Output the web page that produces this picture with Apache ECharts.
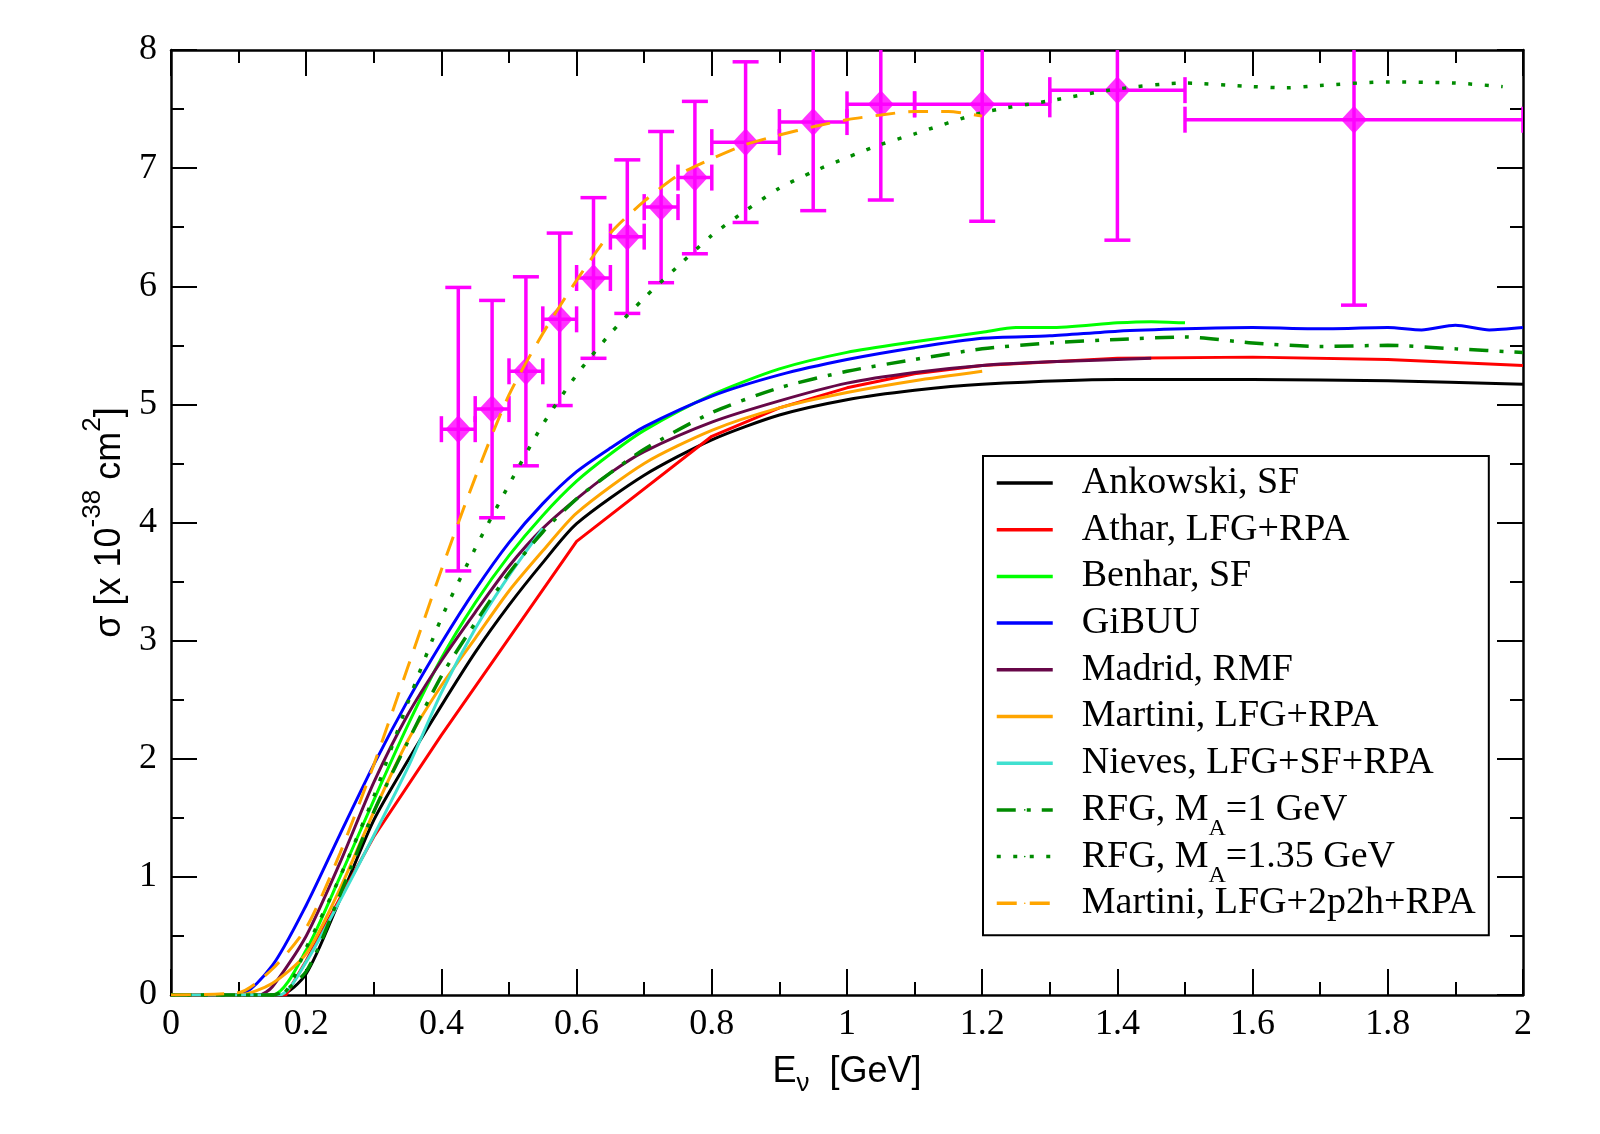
<!DOCTYPE html>
<html>
<head>
<meta charset="utf-8">
<title>CCQE cross section</title>
<script src="https://cdn.jsdelivr.net/npm/echarts@6/dist/echarts.min.js"></script>
<style>
html, body { margin: 0; padding: 0; background: #fff; }
#chart { width: 1600px; height: 1134px; }
</style>
</head>
<body>
<div id="chart"></div>
<script>
// model curves, [E_nu (GeV), sigma (1e-38 cm^2)]
var ankowski = [[0,0],[0.16,0],[0.2,0.18],[0.25,0.81],[0.3,1.48],[0.35,1.98],[0.4,2.45],[0.45,2.9],[0.5,3.3],[0.55,3.66],[0.6,3.99],[0.7,4.4],[0.8,4.7],[0.9,4.91],[1.0,5.04],[1.1,5.12],[1.2,5.17],[1.4,5.21],[1.6,5.21],[1.8,5.2],[2.0,5.17]];
var athar = [[0,0],[0.17,0],[0.2,0.29],[0.25,0.82],[0.3,1.34],[0.4,2.2],[0.6,3.84],[0.8,4.73],[0.9,4.97],[1.0,5.14],[1.1,5.26],[1.2,5.33],[1.4,5.39],[1.6,5.4],[1.8,5.38],[2.0,5.33]];
var benhar = [[0,0],[0.15,0],[0.2,0.38],[0.25,1.0],[0.3,1.65],[0.35,2.28],[0.4,2.85],[0.45,3.32],[0.5,3.72],[0.55,4.06],[0.6,4.35],[0.65,4.58],[0.7,4.78],[0.8,5.08],[0.9,5.3],[1.0,5.44],[1.1,5.53],[1.2,5.61],[1.25,5.65],[1.3,5.65],[1.4,5.69],[1.45,5.7],[1.5,5.69]];
var gibuu = [[0,0],[0.1,0],[0.15,0.25],[0.2,0.76],[0.25,1.36],[0.3,1.95],[0.35,2.49],[0.4,2.98],[0.45,3.43],[0.5,3.83],[0.55,4.16],[0.6,4.43],[0.65,4.63],[0.7,4.81],[0.8,5.07],[0.9,5.25],[1.0,5.38],[1.1,5.48],[1.2,5.56],[1.3,5.58],[1.4,5.62],[1.5,5.64],[1.6,5.65],[1.7,5.64],[1.8,5.65],[1.85,5.63],[1.9,5.67],[1.95,5.63],[2.0,5.65]];
var madrid = [[0,0],[0.13,0],[0.15,0.07],[0.2,0.5],[0.25,1.12],[0.3,1.8],[0.35,2.37],[0.4,2.83],[0.45,3.24],[0.5,3.63],[0.55,3.95],[0.6,4.2],[0.65,4.42],[0.7,4.6],[0.8,4.85],[0.9,5.03],[1.0,5.18],[1.1,5.27],[1.2,5.33],[1.3,5.36],[1.45,5.39]];
var martini = [[0,0],[0.1,0],[0.15,0.1],[0.2,0.35],[0.25,0.9],[0.3,1.55],[0.35,2.15],[0.4,2.62],[0.45,3.02],[0.5,3.42],[0.55,3.76],[0.6,4.08],[0.7,4.5],[0.8,4.78],[0.9,4.97],[1.0,5.1],[1.1,5.2],[1.2,5.28]];
var nieves = [[0,0],[0.16,0],[0.2,0.28],[0.25,0.8],[0.3,1.35],[0.35,1.92],[0.4,2.56],[0.45,3.1],[0.5,3.55],[0.55,3.95]];
var rfg1 = [[0,0],[0.15,0],[0.2,0.2],[0.25,0.85],[0.3,1.55],[0.35,2.14],[0.4,2.7],[0.45,3.15],[0.5,3.57],[0.55,3.92],[0.6,4.2],[0.65,4.42],[0.7,4.62],[0.8,4.93],[0.9,5.14],[1.0,5.28],[1.1,5.38],[1.2,5.47],[1.3,5.52],[1.4,5.55],[1.5,5.57],[1.6,5.52],[1.7,5.49],[1.8,5.5],[1.9,5.47],[2.0,5.44]];
var rfg135 = [[0,0],[0.16,0],[0.2,0.4],[0.25,1.0],[0.3,1.68],[0.35,2.47],[0.4,3.19],[0.45,3.78],[0.5,4.32],[0.55,4.83],[0.6,5.25],[0.65,5.6],[0.7,5.9],[0.75,6.17],[0.8,6.43],[0.85,6.64],[0.9,6.83],[0.95,6.97],[1.0,7.09],[1.05,7.2],[1.1,7.29],[1.2,7.47],[1.3,7.57],[1.4,7.67],[1.5,7.72],[1.6,7.69],[1.65,7.68],[1.7,7.7],[1.8,7.73],[1.9,7.72],[1.97,7.69]];
var martini2p2h = [[0,0],[0.1,0.02],[0.15,0.22],[0.2,0.57],[0.25,1.2],[0.3,1.95],[0.35,2.77],[0.4,3.6],[0.45,4.38],[0.5,5.08],[0.55,5.6],[0.6,6.05],[0.65,6.45],[0.7,6.72],[0.75,6.94],[0.8,7.08],[0.85,7.2],[0.9,7.28],[0.95,7.35],[1.0,7.41],[1.05,7.45],[1.1,7.48],[1.15,7.48],[1.2,7.44]];

// measured points with bins and errors
var expE     = [0.425, 0.475, 0.525, 0.575, 0.625, 0.675, 0.725, 0.775, 0.85, 0.95, 1.05, 1.2, 1.4, 1.75];
var expBinLo = [0.4, 0.45, 0.5, 0.55, 0.6, 0.65, 0.7, 0.75, 0.8, 0.9, 1.0, 1.1, 1.3, 1.5];
var expBinHi = [0.45, 0.5, 0.55, 0.6, 0.65, 0.7, 0.75, 0.8, 0.9, 1.0, 1.1, 1.3, 1.5, 2.0];
var expSigma = [4.79, 4.96, 5.28, 5.72, 6.07, 6.42, 6.67, 6.92, 7.22, 7.39, 7.54, 7.54, 7.66, 7.41];
var expErr   = [1.2, 0.92, 0.8, 0.73, 0.68, 0.65, 0.64, 0.645, 0.68, 0.75, 0.81, 0.99, 1.27, 1.57];

var curves = [
    {name: 'Ankowski, SF', data: ankowski, color: '#000000', type: 'solid'},
    {name: 'Athar, LFG+RPA', data: athar, color: '#ff0000', type: 'solid', sharp: true},
    {name: 'Benhar, SF', data: benhar, color: '#00ff00', type: 'solid'},
    {name: 'GiBUU', data: gibuu, color: '#0000ff', type: 'solid'},
    {name: 'Madrid, RMF', data: madrid, color: '#670748', type: 'solid'},
    {name: 'Martini, LFG+RPA', data: martini, color: '#ffa500', type: 'solid'},
    {name: 'Nieves, LFG+SF+RPA', data: nieves, color: '#40e0d0', type: 'solid'},
    {name: 'RFG, M_A=1 GeV', data: rfg1, color: '#008b00', type: [19, 11, 4, 11], width: 3.5},
    {name: 'RFG, M_A=1.35 GeV', data: rfg135, color: '#008b00', type: [4, 12.5], width: 3.5},
    {name: 'Martini, LFG+2p2h+RPA', data: martini2p2h, color: '#ffa500', type: [20, 13]}
];

var chart = echarts.init(document.getElementById('chart'));

var series = curves.map(function (c) {
    return {
        name: c.name,
        type: 'line',
        data: c.data,
        symbol: 'none',
        smooth: c.sharp ? false : 0.25,
        clip: true,
        z: 3,
        itemStyle: {color: c.color},
        lineStyle: {color: c.color, width: c.width || 3, type: c.type}
    };
});

var errData = expE.map(function (e, i) {
    return [e, expSigma[i], expBinLo[i], expBinHi[i], expSigma[i] - expErr[i], expSigma[i] + expErr[i]];
});

function seg(x1, y1, x2, y2) {
    return {type: 'line', shape: {x1: x1, y1: y1, x2: x2, y2: y2},
        style: {stroke: '#ff00ff', lineWidth: 3.5, fill: null}};
}

series.push({
    type: 'custom',
    data: errData,
    clip: true,
    silent: true,
    z: 2,
    encode: {x: [0, 2, 3], y: [1, 4, 5]},
    renderItem: function (params, api) {
        var y = api.value(1), x = api.value(0);
        var lo = api.coord([x, api.value(4)]);
        var hi = api.coord([x, api.value(5)]);
        var l = api.coord([api.value(2), y]);
        var r = api.coord([api.value(3), y]);
        var cap = 13;
        return {type: 'group', children: [
            seg(lo[0], lo[1], hi[0], hi[1]),
            seg(lo[0] - cap, lo[1], lo[0] + cap, lo[1]),
            seg(hi[0] - cap, hi[1], hi[0] + cap, hi[1]),
            seg(l[0], l[1], r[0], r[1]),
            seg(l[0], l[1] - cap, l[0], l[1] + cap),
            seg(r[0], r[1] - cap, r[0], r[1] + cap)
        ]};
    }
});

series.push({
    type: 'scatter',
    data: expE.map(function (e, i) { return [e, expSigma[i]]; }),
    symbol: 'diamond',
    symbolSize: [26, 28],
    itemStyle: {color: '#ff00ff'},
    z: 2,
    silent: true
});

var frame = {onZero: false, lineStyle: {color: '#000', width: 2.5}};
var tickStyle = {inside: true, length: 26, lineStyle: {color: '#000', width: 2}};
var minorStyle = {show: true, splitNumber: 2, length: 13, lineStyle: {color: '#000', width: 2}};
var serif = 'Liberation Serif';
var sans = 'Liberation Sans';

var option = {
    animation: false,
    backgroundColor: '#fff',
    grid: {left: 171, right: 77, top: 50, bottom: 139},
    legend: {
        data: curves.map(function (c) { return c.name; }),
        orient: 'vertical',
        left: 983,
        top: 456,
        padding: [8, 7, 1, 12],
        itemWidth: 56,
        itemHeight: 2,
        itemGap: -3.3,
        selectedMode: false,
        backgroundColor: '#fff',
        borderColor: '#000',
        borderWidth: 2,
        lineStyle: {width: 3.5},
        textStyle: {
            padding: [0, 0, 0, 24],
            rich: {
                n: {fontFamily: serif, fontSize: 38, color: '#000', lineHeight: 42},
                s: {fontFamily: serif, fontSize: 24, color: '#000', lineHeight: 24, height: 4, verticalAlign: 'bottom'}
            }
        },
        // every row gets a subscript token so that all rows have the same height
        formatter: function (name) {
            return name.indexOf('M_A') >= 0
                ? '{n|' + name.replace('M_A', 'M}{s|A}{n|') + '}'
                : '{n|' + name + '}{s| }';
        }
    },
    xAxis: [{
        type: 'value', min: 0, max: 2, interval: 0.2,
        name: '{t|E}{sub|ν}{t|  [GeV]}',
        nameLocation: 'middle', nameGap: 52,
        nameTextStyle: {
            rich: {
                t: {fontFamily: sans, fontSize: 36, color: '#000', lineHeight: 50},
                sub: {fontFamily: sans, fontSize: 26, color: '#000', lineHeight: 26, verticalAlign: 'bottom'}
            }
        },
        axisLine: frame, axisTick: tickStyle, minorTick: minorStyle,
        splitLine: {show: false},
        axisLabel: {fontFamily: serif, fontSize: 36, color: '#000', margin: 12}
    }, {
        type: 'value', min: 0, max: 2, interval: 0.2, position: 'top',
        axisLine: frame, axisTick: tickStyle, minorTick: minorStyle,
        splitLine: {show: false}, axisLabel: {show: false}
    }],
    yAxis: [{
        type: 'value', min: 0, max: 8, interval: 1,
        name: '{t|σ [x 10}{sup|-38}{t| cm}{sup|2}{t|]}',
        nameLocation: 'middle', nameRotate: 90, nameGap: 31,
        nameTextStyle: {
            rich: {
                t: {fontFamily: sans, fontSize: 36, color: '#000', lineHeight: 60},
                sup: {fontFamily: sans, fontSize: 26, color: '#000', lineHeight: 26, verticalAlign: 'top'}
            }
        },
        axisLine: frame, axisTick: tickStyle, minorTick: minorStyle,
        splitLine: {show: false},
        axisLabel: {fontFamily: serif, fontSize: 36, color: '#000', margin: 14}
    }, {
        type: 'value', min: 0, max: 8, interval: 1, position: 'right',
        axisLine: frame, axisTick: tickStyle, minorTick: minorStyle,
        splitLine: {show: false}, axisLabel: {show: false}
    }],
    series: series
};

chart.setOption(option);
</script>
</body>
</html>
